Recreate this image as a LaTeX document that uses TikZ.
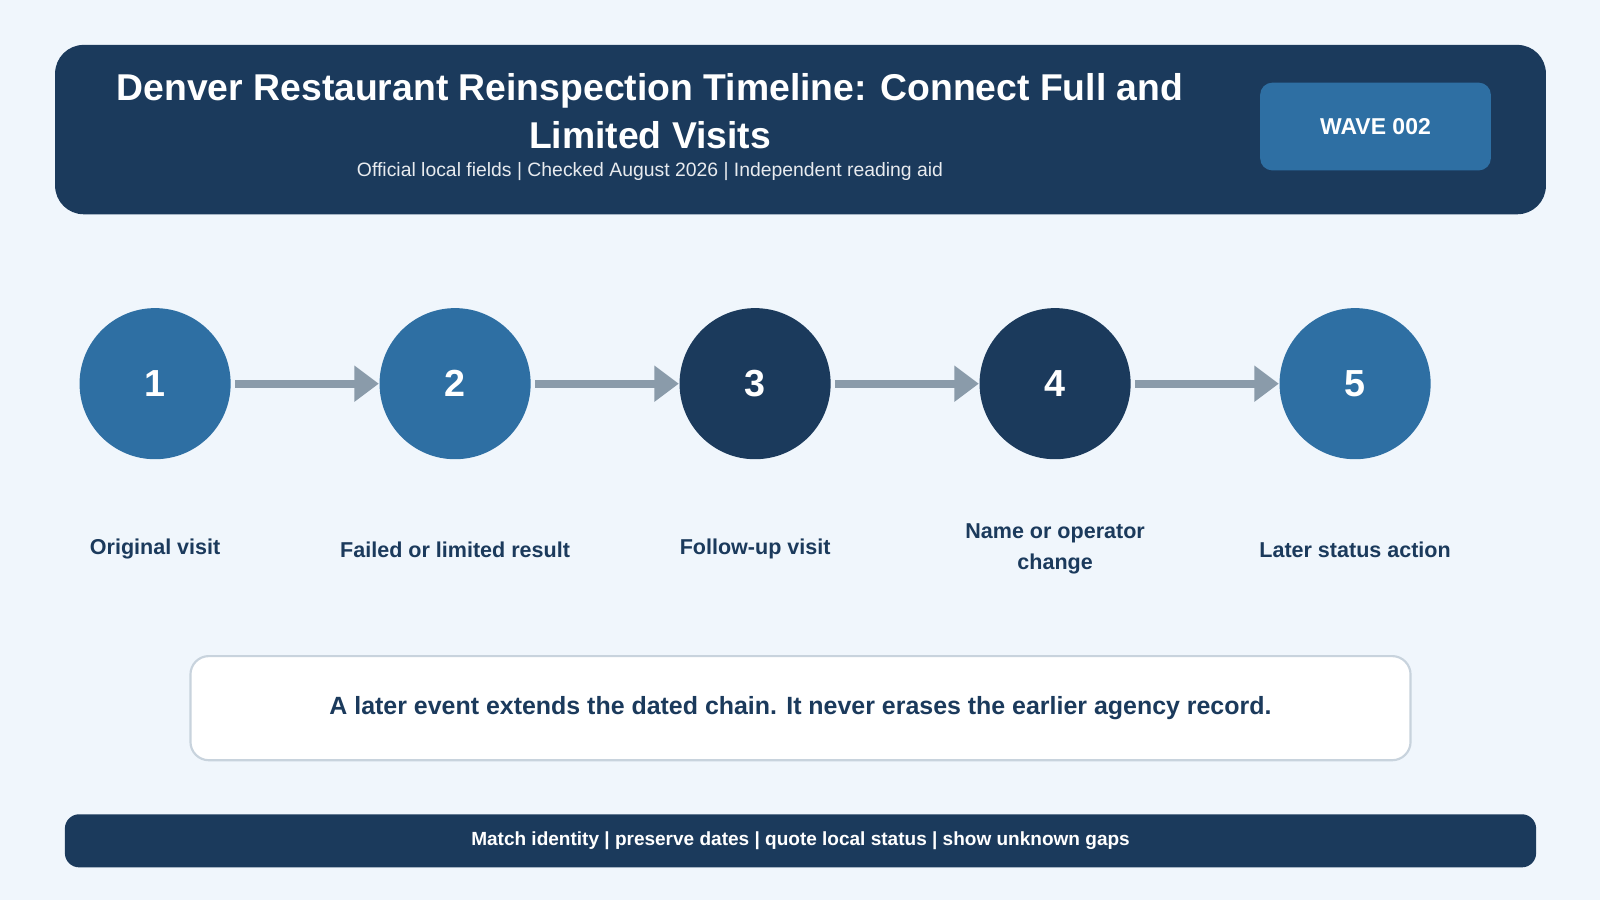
\documentclass[tikz,border=0pt]{standalone}
\usepackage{fontspec}
\setmainfont{Liberation Sans}
\usetikzlibrary{positioning,arrows.meta}
\definecolor{navy}{HTML}{1B3A5C}
\definecolor{steel}{HTML}{2E6FA3}
\definecolor{pale}{HTML}{F0F6FC}
\definecolor{linkgray}{HTML}{8A9BAA}
\definecolor{rim}{HTML}{C8D3DD}
\begin{document}
\begin{tikzpicture}[x=0.01cm, y=-0.01cm,
  stage/.style={circle, minimum size=1.48cm, inner sep=0pt, text=white, font=\fontsize{10.5}{12}\selectfont\bfseries},
  caption/.style={text=navy, align=center, font=\fontsize{6}{8.5}\selectfont\bfseries},
  flow/.style={linkgray, line width=2.3pt, -{Triangle[length=0.24cm,width=0.34cm]}}]
\fill[pale] (0,0) rectangle (1568,882);
\useasboundingbox (0,0) rectangle (1568,882);

% header
\fill[navy, rounded corners=0.28cm] (54,44) rectangle (1515,210);
\node[text=white, align=center, font=\fontsize{10.4}{13.2}\selectfont\bfseries] (title) at (637,109) {Denver Restaurant Reinspection Timeline: Connect Full and\\Limited Visits};
\node[text=white!90!navy, font=\fontsize{5.4}{6}\selectfont] (sub) at (637,168) {Official local fields | Checked August 2026 | Independent reading aid};
\node[fill=steel, rounded corners=0.12cm, minimum width=2.26cm, minimum height=0.86cm, text=white, font=\fontsize{6.4}{7}\selectfont\bfseries] (wave) at (1348,124) {WAVE 002};

% steps
\node[stage, fill=steel] (s1) at (152,376) {1};
\node[stage, fill=steel] (s2) at (446,376) {2};
\node[stage, fill=navy]  (s3) at (740,376) {3};
\node[stage, fill=navy]  (s4) at (1034,376) {4};
\node[stage, fill=steel] (s5) at (1328,376) {5};

\draw[flow] ([xshift=0.04cm]s1.east) -- (s2.west);
\draw[flow] ([xshift=0.04cm]s2.east) -- (s3.west);
\draw[flow] ([xshift=0.04cm]s3.east) -- (s4.west);
\draw[flow] ([xshift=0.04cm]s4.east) -- (s5.west);

\node[caption] (c1) at (152,538) {Original visit};
\node[caption] (c2) at (446,539) {Failed or limited result};
\node[caption] (c3) at (740,538) {Follow-up visit};
\node[caption] (c4) at (1034,538) {Name or operator\\change};
\node[caption] (c5) at (1328,539) {Later status action};

% note
\node[fill=white, draw=rim, line width=0.6pt, rounded corners=0.18cm, minimum width=11.95cm, minimum height=1.02cm, text=navy, font=\fontsize{6.95}{8}\selectfont\bfseries] (note) at (784.5,694) {A later event extends the dated chain. It never erases the earlier agency record.};

% footer
\node[fill=navy, rounded corners=0.14cm, minimum width=14.41cm, minimum height=0.52cm, text=white, font=\fontsize{5.3}{6}\selectfont\bfseries] (foot) at (784.5,824) {Match identity | preserve dates | quote local status | show unknown gaps};
\end{tikzpicture}
\end{document}
